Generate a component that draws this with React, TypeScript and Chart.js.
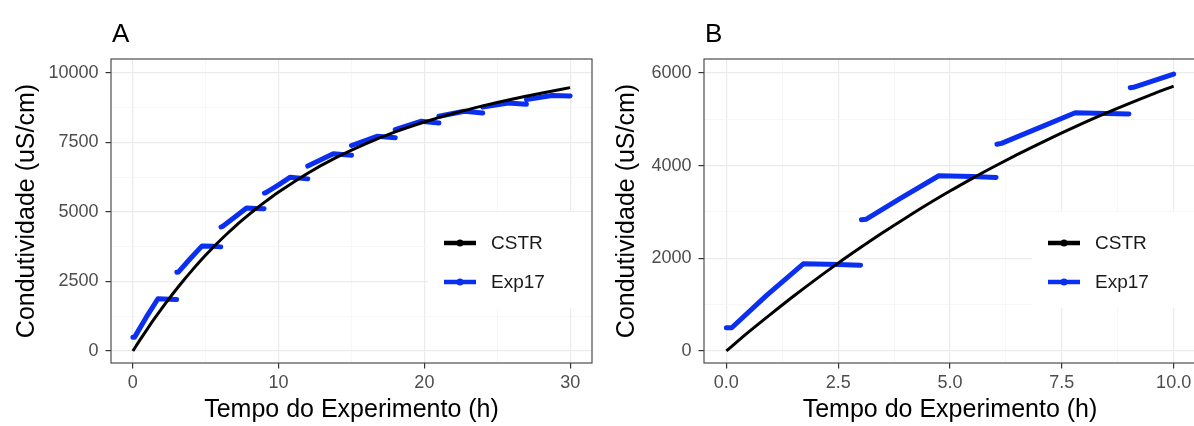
import React, { useEffect, useRef } from "react";
import { Chart, registerables } from "chart.js";

Chart.register(...registerables);

// ---------- data ----------
const seriesNames = ["CSTR", "Exp17"];
const seriesColors = ["#000000", "#0a2ff0"];
const panelTitles = ["A", "B"];
const xTitle = "Tempo do Experimento (h)";
const yTitle = "Condutividade (uS/cm)";

// CSTR model curve (h, uS/cm)
const cstrTime = [
  0, 0.5, 1, 1.5, 2, 2.5, 3, 3.5, 4, 4.5, 5, 5.5, 6, 6.5, 7, 7.5, 8, 8.5, 9, 9.5, 10,
  12, 14, 16, 18, 20, 22, 24, 26, 28, 30,
];
const cstrValue = [
  0, 410, 800, 1180, 1545, 1895, 2230, 2555, 2865, 3165, 3450, 3725, 3985, 4235, 4475, 4705,
  4925, 5135, 5335, 5530, 5715,
  6395, 6970, 7460, 7880, 8235, 8545, 8815, 9055, 9270, 9470,
];

// Exp17 measurements (null = break between injections)
const exp17Time = [
  0.0, 0.12, 0.9, 1.72, 2.5, 3.0, null,
  3.02, 3.12, 3.9, 4.75, 5.5, 6.03, null,
  6.05, 6.15, 7.0, 7.8, 8.5, 9.0, null,
  9.03, 9.1, 10.0, 10.8, 12.0, null,
  12.0, 13.75, 15.0, null,
  15.0, 16.75, 18.0, null,
  18.0, 19.75, 21.0, null,
  21.0, 22.75, 24.0, null,
  24.0, 25.75, 27.0, null,
  27.0, 28.75, 30.0,
];
const exp17Value = [
  500, 500, 1200, 1880, 1865, 1850, null,
  2830, 2840, 3300, 3780, 3765, 3745, null,
  4460, 4480, 4820, 5140, 5125, 5115, null,
  5680, 5690, 5975, 6250, 6190, null,
  6650, 7090, 7040, null,
  7390, 7720, 7670, null,
  7960, 8260, 8200, null,
  8440, 8620, 8560, null,
  8770, 8920, 8870, null,
  9040, 9190, 9170,
];

// axes
const xTicksA = [0, 10, 20, 30];
const xTickLabelsA = ["0", "10", "20", "30"];
const yTicksA = [0, 2500, 5000, 7500, 10000];
const yTickLabelsA = ["0", "2500", "5000", "7500", "10000"];
const xTicksB = [0, 2.5, 5, 7.5, 10];
const xTickLabelsB = ["0.0", "2.5", "5.0", "7.5", "10.0"];
const yTicksB = [0, 2000, 4000, 6000];
const yTickLabelsB = ["0", "2000", "4000", "6000"];
const xRangeA = [-1.5, 31.5];
const yRangeA = [-430, 10500];
const xRangeB = [-0.5, 10.5];
const yRangeB = [-260, 6300];
const maxTimeB = 10;

// ---------- helpers ----------
const FONT = '"Liberation Sans", Arial, Helvetica, sans-serif';

function withMinor(majors: number[]) {
  const out: number[] = [];
  majors.forEach((m, i) => {
    out.push(m);
    if (i < majors.length - 1) out.push((m + majors[i + 1]) / 2);
  });
  return out;
}

function makePoints(times: (number | null)[], values: (number | null)[], tMax: number) {
  const pts: { x: number; y: number | null }[] = [];
  let last = 0;
  for (let i = 0; i < times.length; i++) {
    const t = times[i];
    const v = values[i];
    if (t === null || v === null) {
      pts.push({ x: last, y: null });
      continue;
    }
    if (t > tMax + 1e-9) continue;
    last = t;
    pts.push({ x: t, y: v });
  }
  return pts;
}

function axisOpts(
  majors: number[],
  labels: string[],
  range: number[],
  title: string,
  isX: boolean,
  fitSize: number
) {
  const all = withMinor(majors);
  const isMajor = (v: number) => majors.some((m) => Math.abs(m - v) < 1e-9);
  return {
    type: "linear",
    min: range[0],
    max: range[1],
    afterBuildTicks: (s: any) => {
      s.ticks = all.map((v) => ({ value: v }));
    },
    afterFit: (s: any) => {
      if (isX) s.height = fitSize;
      else s.width = fitSize;
    },
    border: { display: false },
    grid: {
      drawTicks: true,
      tickLength: 5.5,
      tickWidth: 1.2,
      color: (c: any) => (c.tick && isMajor(c.tick.value) ? "#ebebeb" : "#f3f3f3"),
      lineWidth: (c: any) => (c.tick && isMajor(c.tick.value) ? 1.2 : 0.7),
      tickColor: (c: any) => (c.tick && isMajor(c.tick.value) ? "#333333" : "rgba(0,0,0,0)"),
    },
    ticks: {
      autoSkip: false,
      maxRotation: 0,
      minRotation: 0,
      padding: isX ? 4 : 7,
      color: "#4d4d4d",
      font: { family: FONT, size: 18 },
      callback: (v: number) => {
        const idx = majors.findIndex((m) => Math.abs(m - v) < 1e-9);
        return idx >= 0 ? labels[idx] : "";
      },
    },
    title: {
      display: true,
      text: title,
      color: "#000000",
      font: { family: FONT, size: 25 },
      padding: isX ? { top: 0, bottom: 1 } : { top: 12, bottom: 0 },
    },
  };
}

function decorPlugin(panelTitle: string, legendLeftFromRight: number) {
  return {
    id: "panelDecor" + panelTitle,
    afterDatasetsDraw(chart: any) {
      const { ctx, chartArea: a } = chart;
      ctx.save();
      // legend
      const boxX = a.right - 164;
      ctx.fillStyle = "#ffffff";
      ctx.fillRect(boxX, 212, a.right - boxX, 96);
      const keyX = a.right - legendLeftFromRight;
      const rows = [243, 282];
      seriesNames.forEach((name, i) => {
        const y = rows[i];
        ctx.strokeStyle = seriesColors[i];
        ctx.lineWidth = 4.5;
        ctx.lineCap = "butt";
        ctx.beginPath();
        ctx.moveTo(keyX, y);
        ctx.lineTo(keyX + 32, y);
        ctx.stroke();
        ctx.fillStyle = seriesColors[i];
        ctx.beginPath();
        ctx.arc(keyX + 16, y, 3.5, 0, Math.PI * 2);
        ctx.fill();
        ctx.fillStyle = "#1a1a1a";
        ctx.font = `19px ${FONT}`;
        ctx.textAlign = "left";
        ctx.textBaseline = "middle";
        ctx.fillText(name, keyX + 47, y + 1);
      });
      // panel border
      ctx.strokeStyle = "#4d4d4d";
      ctx.lineWidth = 1.2;
      ctx.strokeRect(a.left, a.top, a.right - a.left, a.bottom - a.top);
      // panel title
      ctx.fillStyle = "#000000";
      ctx.font = `26px ${FONT}`;
      ctx.textAlign = "left";
      ctx.textBaseline = "alphabetic";
      ctx.fillText(panelTitle, a.left + 1, 42);
      ctx.restore();
    },
  };
}

function buildConfig(panel: 0 | 1) {
  const isA = panel === 0;
  const tMax = isA ? 1000 : maxTimeB;
  const cstr = makePoints(cstrTime, cstrValue, tMax);
  const exp = makePoints(exp17Time, exp17Value, tMax);
  return {
    type: "line",
    data: {
      datasets: [
        {
          label: seriesNames[0],
          data: cstr,
          borderColor: seriesColors[0],
          borderWidth: 3,
          pointRadius: 0,
          cubicInterpolationMode: "monotone",
          fill: false,
        },
        {
          label: seriesNames[1],
          data: exp,
          borderColor: seriesColors[1],
          borderWidth: 5,
          pointRadius: 0,
          tension: 0,
          spanGaps: false,
          borderCapStyle: "round",
          borderJoinStyle: "round",
          fill: false,
        },
      ],
    },
    options: {
      animation: false,
      responsive: false,
      maintainAspectRatio: false,
      events: [],
      layout: { padding: { left: 0, top: 59, right: isA ? 8 : 4, bottom: 0 } },
      plugins: { legend: { display: false }, tooltip: { enabled: false }, title: { display: false } },
      scales: {
        x: axisOpts(
          isA ? xTicksA : xTicksB,
          isA ? xTickLabelsA : xTickLabelsB,
          isA ? xRangeA : xRangeB,
          xTitle,
          true,
          63
        ),
        y: axisOpts(
          isA ? yTicksA : yTicksB,
          isA ? yTickLabelsA : yTickLabelsB,
          isA ? yRangeA : yRangeB,
          yTitle,
          false,
          isA ? 111 : 104
        ),
      },
    },
    plugins: [decorPlugin(panelTitles[panel], 148)],
  };
}

function Panel({ panel, left }: { panel: 0 | 1; left: number }) {
  const ref = useRef<HTMLCanvasElement | null>(null);
  useEffect(() => {
    if (!ref.current) return;
    const chart = new Chart(ref.current, buildConfig(panel) as any);
    return () => chart.destroy();
  }, [panel]);
  return (
    <canvas
      ref={ref}
      width={600}
      height={426}
      style={{ position: "absolute", left, top: 0, width: 600, height: 426 }}
    />
  );
}

export default function App() {
  return (
    <div
      style={{
        position: "fixed",
        left: 0,
        top: 0,
        width: 1194,
        height: 426,
        overflow: "hidden",
        background: "#ffffff",
      }}
    >
      <Panel panel={0} left={0} />
      <Panel panel={1} left={600} />
    </div>
  );
}
